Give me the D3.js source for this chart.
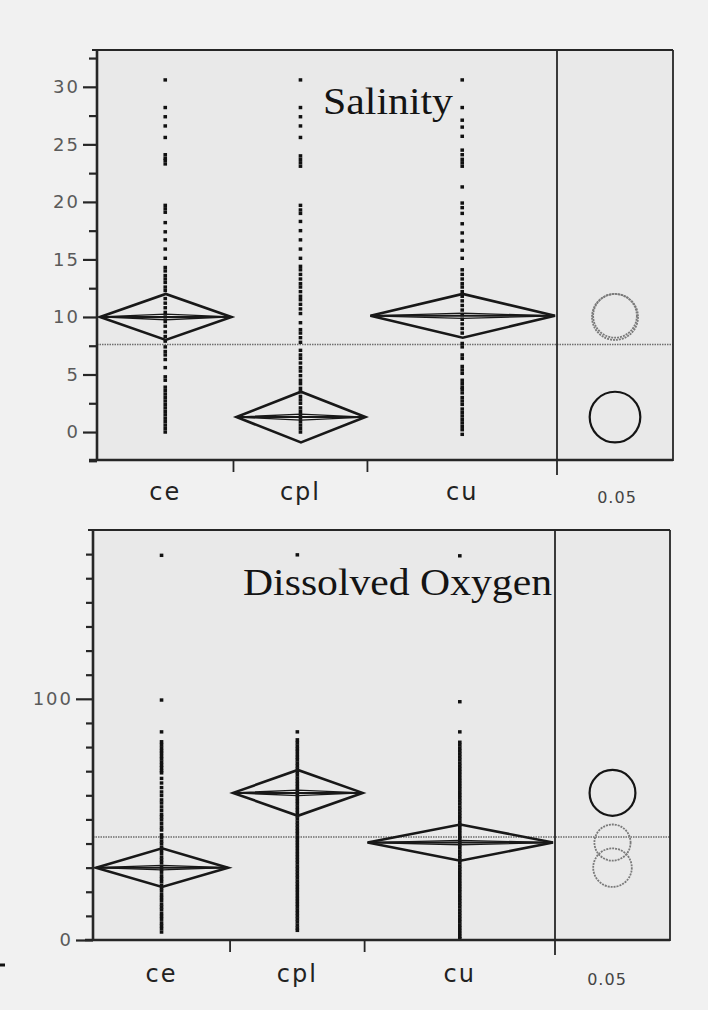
<!DOCTYPE html>
<html>
<head>
<meta charset="utf-8">
<script src="https://cdnjs.cloudflare.com/ajax/libs/d3/7.8.5/d3.min.js"></script>
<style>
  body { margin: 0; background: #f1f1f1; }
  svg { display: block; }
  .tick text { font-family: "DejaVu Sans", sans-serif; fill: #5a5a5a; }
</style>
</head>
<body>
<div id="chart"></div>
<script>
// groups and their sample sizes (group width is proportional to n)
var groups = ['ce', 'cpl', 'cu'];
var groupN = [54, 53, 75];
var alphaLabel = '0.05';

// Salinity: group means, 95% CI half widths, grand mean
var salMeans = [10.0, 1.3, 10.1];
var salCI = [2.0, 2.2, 1.9];
var salGrand = 7.6;
var salSelected = 'cpl';
var salTicks = [0, 5, 10, 15, 20, 25, 30];
var salMinor = [-2.5, 2.5, 7.5, 12.5, 17.5, 22.5, 27.5, 32.5];

var salPointsCe = [30.6, 28.2, 27.4, 26.6, 25.6, 24.1, 23.8, 23.6, 23.3, 19.7, 19.4, 19.1, 18.2, 17.4, 16.7, 15.9, 15.1, 14.3, 14.0, 13.6, 13.3, 13.0, 12.6, 12.3, 11.6, 11.2, 10.8, 10.4, 10.0, 9.6, 9.2, 8.7, 8.3, 7.9, 7.4, 7.0, 6.7, 6.3, 5.6, 4.8, 4.5, 3.9, 3.6, 3.3, 3.0, 2.7, 2.4, 2.1, 1.8, 1.5, 1.2, 0.9, 0.6, 0.3, 0.0];
var salPointsCpl = [30.6, 28.2, 27.4, 26.6, 25.6, 24.0, 23.7, 23.4, 23.1, 19.7, 19.3, 19.0, 18.3, 17.5, 16.7, 15.9, 15.1, 14.4, 14.1, 13.7, 13.3, 12.9, 12.6, 12.2, 11.8, 11.5, 11.1, 10.7, 10.3, 9.5, 8.9, 8.6, 8.2, 7.8, 7.1, 6.7, 6.4, 6.0, 5.6, 5.3, 4.9, 4.5, 4.2, 3.8, 3.5, 3.1, 2.8, 2.5, 2.1, 1.8, 1.5, 1.2, 0.9, 0.6, 0.3, 0.0];
var salPointsCu = [30.6, 28.2, 27.1, 26.5, 25.7, 24.5, 24.1, 23.7, 23.4, 23.1, 21.3, 19.9, 19.5, 19.0, 18.1, 17.3, 16.6, 15.8, 15.1, 14.1, 13.7, 13.3, 12.9, 12.6, 12.2, 11.8, 11.4, 11.0, 10.6, 10.2, 9.8, 9.4, 9.0, 8.6, 7.7, 7.4, 6.7, 6.4, 5.7, 5.4, 5.1, 4.5, 4.2, 3.9, 3.7, 3.4, 3.0, 2.7, 2.4, 2.0, 1.7, 1.4, 1.1, 0.8, 0.5, 0.2, -0.2];

// Dissolved oxygen
var doMeans = [30.0, 61.0, 40.4];
var doCI = [8.0, 9.5, 7.5];
var doGrand = 42.7;
var doSelected = 'cpl';
var doTicks = [0, 100];
var doMinor = [10, 20, 30, 40, 50, 60, 70, 80, 90, 110, 120, 130, 140, 150, 160];

var doPointsCe = [159.5, 99.5, 86.3, 82.2, 81.0, 79.7, 78.5, 77.4, 76.1, 75.0, 73.7, 72.5, 71.4, 70.2, 69.3, 67.0, 65.1, 63.2, 61.4, 59.9, 58.1, 56.8, 55.2, 53.7, 52.1, 51.0, 49.8, 48.3, 46.8, 45.6, 43.6, 42.4, 41.0, 39.8, 38.3, 37.1, 35.9, 34.4, 33.2, 32.0, 30.5, 29.3, 28.1, 26.6, 25.4, 24.2, 22.7, 21.5, 20.3, 18.8, 17.6, 16.4, 14.9, 13.7, 12.5, 11.0, 9.8, 8.6, 7.1, 5.9, 4.7, 3.3];
var doPointsCpl = [159.7, 86.3, 83.0, 81.8, 80.5, 79.3, 78.2, 76.9, 75.7, 74.6, 73.3, 72.1, 70.9, 69.7, 68.5, 67.2, 66.0, 64.8, 63.6, 62.4, 61.1, 59.9, 58.7, 57.5, 56.3, 55.0, 53.8, 52.6, 51.4, 50.2, 48.9, 47.7, 46.5, 45.3, 44.1, 42.8, 41.6, 40.4, 39.2, 38.0, 36.7, 35.5, 34.3, 33.1, 31.9, 30.6, 29.4, 28.2, 27.0, 25.8, 24.5, 23.3, 22.1, 20.9, 19.7, 18.4, 17.2, 16.0, 14.8, 13.6, 12.3, 11.1, 9.9, 8.7, 7.5, 6.2, 5.0, 4.0];
var doPointsCu = [159.3, 98.8, 86.3, 82.0, 80.8, 79.5, 78.3, 77.1, 75.9, 74.7, 73.4, 72.2, 71.0, 69.8, 68.6, 67.3, 66.1, 64.9, 63.7, 62.5, 61.2, 60.0, 58.8, 57.6, 56.4, 55.1, 53.9, 52.7, 51.5, 50.3, 49.0, 47.8, 46.6, 45.4, 44.2, 42.9, 41.7, 40.5, 39.3, 38.1, 36.8, 35.6, 34.4, 33.2, 32.0, 30.7, 29.5, 28.3, 27.1, 25.9, 24.6, 23.4, 22.2, 21.0, 19.8, 18.5, 17.3, 16.1, 14.9, 13.7, 12.4, 11.2, 10.0, 8.8, 7.6, 6.3, 5.1, 3.9, 2.7, 1.5, 0.5];

var W = 708, H = 1010;
var svg = d3.select('#chart').append('svg')
    .attr('width', W).attr('height', H);

svg.append('rect').attr('width', W).attr('height', H).attr('fill', '#f1f1f1');

function drawPanel(p) {
    var g = svg.append('g');

    var cum = [0];
    groupN.forEach(function(n, i) { cum.push(cum[i] + n); });
    var x = d3.scaleLinear().domain([0, cum[cum.length - 1]]).range([p.left, p.divider]);
    var y = d3.scaleLinear().domain(p.domain).range([p.bottom, p.top]);

    // plot background
    g.append('rect')
        .attr('x', p.left).attr('y', p.top)
        .attr('width', p.right - p.left).attr('height', p.bottom - p.top)
        .attr('fill', '#e9e9e9');

    // grand mean, dotted
    g.append('line')
        .attr('x1', p.left).attr('x2', p.right)
        .attr('y1', y(p.grand)).attr('y2', y(p.grand))
        .attr('stroke', '#6e6e6e').attr('stroke-width', 1.5)
        .attr('stroke-dasharray', '1.5,1');

    // title
    g.append('text')
        .attr('x', p.titleX).attr('y', p.titleY)
        .attr('font-family', '"Liberation Serif", "Times New Roman", serif')
        .attr('font-size', 38)
        .attr('textLength', p.titleLen)
        .attr('lengthAdjust', 'spacingAndGlyphs')
        .attr('fill', '#141414')
        .text(p.title);

    // raw points
    p.points.forEach(function(vals, i) {
        var cx = x((cum[i] + cum[i + 1]) / 2);
        g.append('g').selectAll('rect')
            .data(vals)
            .enter().append('rect')
            .attr('x', cx - 1.8)
            .attr('y', function(d) { return y(d) - 1.7; })
            .attr('width', 3.6).attr('height', 3.4)
            .attr('fill', '#111');
    });

    // means diamonds
    groups.forEach(function(gname, i) {
        var x0 = x(cum[i]) + 3, x1 = x(cum[i + 1]) - 2;
        var xm = (x0 + x1) / 2;
        var m = p.means[i], ci = p.ci[i];
        var dg = g.append('g').attr('fill', 'none').attr('stroke', '#181818');
        dg.append('path')
            .attr('d', 'M' + x0 + ',' + y(m) + 'L' + xm + ',' + y(m + ci) + 'L' + x1 + ',' + y(m) +
                       'L' + xm + ',' + y(m - ci) + 'Z')
            .attr('stroke-width', 2.6).attr('stroke-linejoin', 'miter');
        // overlap marks
        var o = ci * 0.12;
        dg.append('path')
            .attr('d', 'M' + x0 + ',' + y(m) + 'L' + xm + ',' + y(m + o) + 'L' + x1 + ',' + y(m) +
                       'L' + xm + ',' + y(m - o) + 'Z')
            .attr('stroke-width', 1.3);
        dg.append('line')
            .attr('x1', x0).attr('x2', x1)
            .attr('y1', y(m)).attr('y2', y(m))
            .attr('stroke-width', 2);
    });

    // comparison circles
    var ccx = (p.divider + p.right) / 2;
    var order = groups.map(function(d, i) { return i; })
        .sort(function(a, b) { return (groups[a] === p.selected) - (groups[b] === p.selected); });
    order.forEach(function(i) {
        var sel = groups[i] === p.selected;
        g.append('circle')
            .attr('cx', ccx).attr('cy', y(p.means[i]))
            .attr('r', y(p.means[i] - p.ci[i]) - y(p.means[i]))
            .attr('fill', 'none')
            .attr('stroke', sel ? '#151515' : '#7a7a7a')
            .attr('stroke-width', sel ? 2.2 : 1.8)
            .attr('stroke-dasharray', sel ? null : '2,1');
    });

    // frame
    var fr = g.append('g').attr('stroke', '#262626').attr('fill', 'none');
    fr.append('line').attr('x1', p.left - 5).attr('x2', p.right).attr('y1', p.top).attr('y2', p.top).attr('stroke-width', 2.2);
    fr.append('line').attr('x1', p.right).attr('x2', p.right).attr('y1', p.top).attr('y2', p.bottom + 1).attr('stroke-width', 1.8);
    fr.append('line').attr('x1', p.left - 8).attr('x2', p.right).attr('y1', p.bottom).attr('y2', p.bottom).attr('stroke-width', 2.4);
    fr.append('line').attr('x1', p.divider).attr('x2', p.divider).attr('y1', p.top).attr('y2', p.bottom + 15).attr('stroke-width', 1.8);
    fr.append('line').attr('x1', p.left).attr('x2', p.left).attr('y1', p.top).attr('y2', p.bottom).attr('stroke-width', 2.6);

    // group separators on x axis
    cum.slice(1, -1).forEach(function(c) {
        fr.append('line').attr('x1', x(c)).attr('x2', x(c))
            .attr('y1', p.bottom).attr('y2', p.bottom + 12).attr('stroke-width', 1.8);
    });

    // y axis ticks
    var major = d3.axisLeft(y).tickValues(p.ticks).tickSize(p.majorLen).tickPadding(3)
        .tickFormat(d3.format('d'));
    var ga = g.append('g').attr('transform', 'translate(' + p.left + ',0)').call(major);
    ga.select('.domain').remove();
    ga.selectAll('.tick line').attr('stroke', '#262626').attr('stroke-width', 2.2);
    ga.selectAll('.tick text').attr('font-size', 18).attr('letter-spacing', 2).attr('fill', '#555');

    var minor = d3.axisLeft(y).tickValues(p.minor).tickSize(p.minorLen).tickFormat('');
    var gm = g.append('g').attr('transform', 'translate(' + p.left + ',0)').call(minor);
    gm.select('.domain').remove();
    gm.selectAll('.tick line').attr('stroke', '#262626').attr('stroke-width', 2.2);

    // category labels
    groups.forEach(function(gname, i) {
        g.append('text')
            .attr('x', x((cum[i] + cum[i + 1]) / 2))
            .attr('y', p.catY)
            .attr('text-anchor', 'middle')
            .attr('font-family', '"DejaVu Sans", sans-serif')
            .attr('font-size', 24)
            .attr('letter-spacing', 2)
            .attr('fill', '#222')
            .text(gname);
    });
    g.append('text')
        .attr('x', p.alphaX).attr('y', p.catY + 3)
        .attr('text-anchor', 'middle')
        .attr('font-family', '"DejaVu Sans", sans-serif')
        .attr('font-size', 16)
        .attr('letter-spacing', 1)
        .attr('fill', '#444')
        .text(alphaLabel);
}

drawPanel({
    left: 97, right: 673, divider: 557, top: 50, bottom: 460,
    domain: [-2.43, 33.2],
    means: salMeans, ci: salCI, grand: salGrand, selected: salSelected,
    points: [salPointsCe, salPointsCpl, salPointsCu],
    ticks: salTicks, minor: salMinor, majorLen: 14, minorLen: 8,
    title: 'Salinity', titleX: 323, titleY: 114, titleLen: 130,
    catY: 500, alphaX: 617
});

drawPanel({
    left: 93, right: 670, divider: 555, top: 530, bottom: 940,
    domain: [0, 170],
    means: doMeans, ci: doCI, grand: doGrand, selected: doSelected,
    points: [doPointsCe, doPointsCpl, doPointsCu],
    ticks: doTicks, minor: doMinor, majorLen: 17, minorLen: 7,
    title: 'Dissolved Oxygen', titleX: 243, titleY: 595, titleLen: 309,
    catY: 982, alphaX: 607
});

// stray scan mark at the left edge
svg.append('line').attr('x1', 0).attr('x2', 5).attr('y1', 965).attr('y2', 965)
    .attr('stroke', '#111').attr('stroke-width', 3);
</script>
</body>
</html>
